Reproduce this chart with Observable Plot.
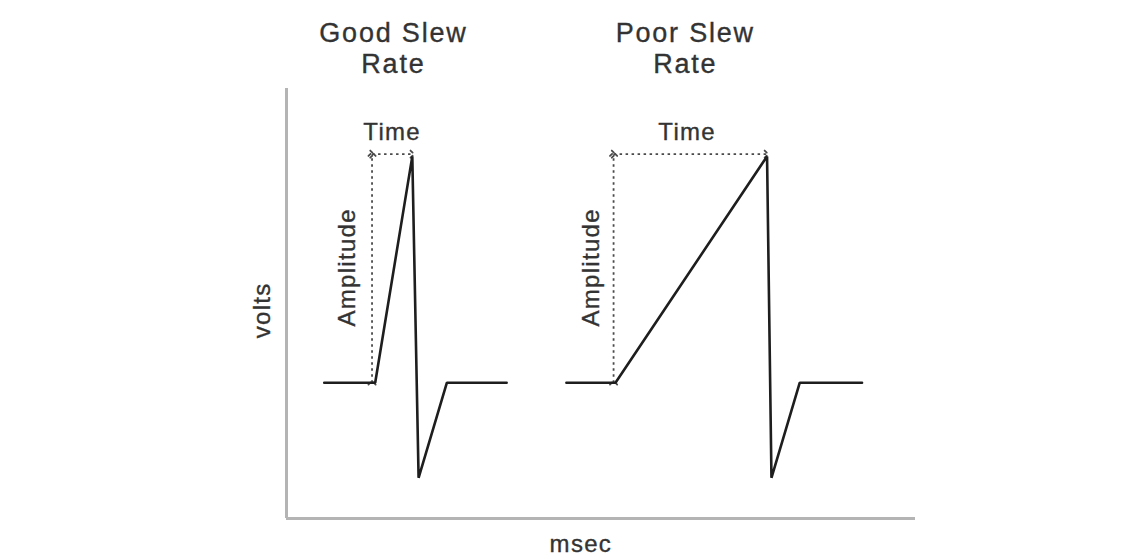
<!DOCTYPE html>
<html>
<head>
<meta charset="utf-8">
<script src="https://cdn.jsdelivr.net/npm/d3@7"></script>
<script src="https://cdn.jsdelivr.net/npm/@observablehq/plot@0.6"></script>
<style>
  html, body { margin: 0; padding: 0; background: #fff; }
  #chart svg { display: block; }
</style>
</head>
<body>
<div id="chart"></div>
<script>
// Waveform samples (x in msec units, y in volts units)
const goodTime  = [6, 14.1, 20, 21, 25.5, 35];
const goodVolts = [0, 0, 10, -4.2, 0, 0];
const poorTime  = [44.5, 52.3, 76.4, 77.1, 81.6, 91.5];
const poorVolts = [0, 0, 10, -4.2, 0, 0];

// Annotation: amplitude / time measurement guides
const guideStart = [13.6, 52.0];   // x of the amplitude guide (start of rise)
const guidePeak  = [20.0, 76.3];   // x of the peak
const guideLevel = 10.1;           // y of the time guide
const baseLevel  = 0;

// Texts
const panelTitles = ["Good Slew\nRate", "Poor Slew\nRate"];
const titleX = [17.0, 63.4];
const timeLabelX = [16.8, 63.7];
const ampLabelX = [9.7, 48.5];
const xLabel = "msec";
const yLabel = "volts";

const xDomain = [0, 100];
const yDomain = [-6, 13];

const toRows = (xs, ys, series) => xs.map((x, i) => ({x, y: ys[i], series}));
const wave = [...toRows(goodTime, goodVolts, "good"), ...toRows(poorTime, poorVolts, "poor")];

const ampLinks = guideStart.map((x) => ({x1: x, x2: x, y1: baseLevel, y2: guideLevel}));
const timeLinks = guideStart.map((x, i) => ({x1: x, x2: guidePeak[i], y1: guideLevel, y2: guideLevel}));

const font = "Liberation Sans, Arial, Helvetica, sans-serif";
const textColor = "#333";

const chart = Plot.plot({
  width: 1140,
  height: 557,
  marginLeft: 286,
  marginRight: 225,
  marginTop: 88,
  marginBottom: 39,
  style: {fontFamily: font, background: "#fff"},
  x: {domain: xDomain, axis: null},
  y: {domain: yDomain, axis: null},
  marks: [
    // axes
    Plot.ruleX([xDomain[0]], {y1: yDomain[0], y2: yDomain[1], stroke: "#b4b4b4", strokeWidth: 3}),
    Plot.ruleY([yDomain[0]], {x1: xDomain[0], x2: xDomain[1], stroke: "#b4b4b4", strokeWidth: 3}),
    // guides
    Plot.link(ampLinks, {x1: "x1", x2: "x2", y1: "y1", y2: "y2", stroke: "#4a4a4a", strokeWidth: 1.8,
      strokeDasharray: "2.5,3.5", markerStart: "arrow", markerEnd: "arrow"}),
    Plot.link(timeLinks, {x1: "x1", x2: "x2", y1: "y1", y2: "y2", stroke: "#4a4a4a", strokeWidth: 1.8,
      strokeDasharray: "2.5,3.5", markerStart: "arrow", markerEnd: "arrow"}),
    // waveforms
    Plot.line(wave, {x: "x", y: "y", z: "series", stroke: "#1e1e1e", strokeWidth: 2.6, strokeLinejoin: "miter"}),
    // labels
    Plot.text(panelTitles, {x: (d, i) => titleX[i], y: 14.8, text: d => d, fontSize: 27, lineHeight: 1.15, fill: textColor}),
    Plot.text(timeLabelX, {x: d => d, y: 11.05, text: () => "Time", fontSize: 24, fill: textColor}),
    Plot.text(ampLabelX, {x: d => d, y: 5.1, text: () => "Amplitude", rotate: -90, fontSize: 24, fill: textColor}),
    Plot.text([yLabel], {x: -3.8, y: 3.2, text: d => d, rotate: -90, fontSize: 24, fill: textColor}),
    Plot.text([xLabel], {x: 46.8, y: -7.12, text: d => d, fontSize: 24, fill: textColor})
  ]
});

// The reference lettering is set slightly looser and heavier than Liberation Sans
d3.select(chart).selectAll("text").each(function () {
  const fs = parseFloat(this.getAttribute("font-size") || this.parentNode.getAttribute("font-size") || 24);
  this.style.letterSpacing = fs >= 26 ? "1.8px" : "1.3px";
  this.style.stroke = textColor;
  this.style.strokeWidth = "0.35px";
});

document.getElementById("chart").append(chart);
</script>
</body>
</html>
